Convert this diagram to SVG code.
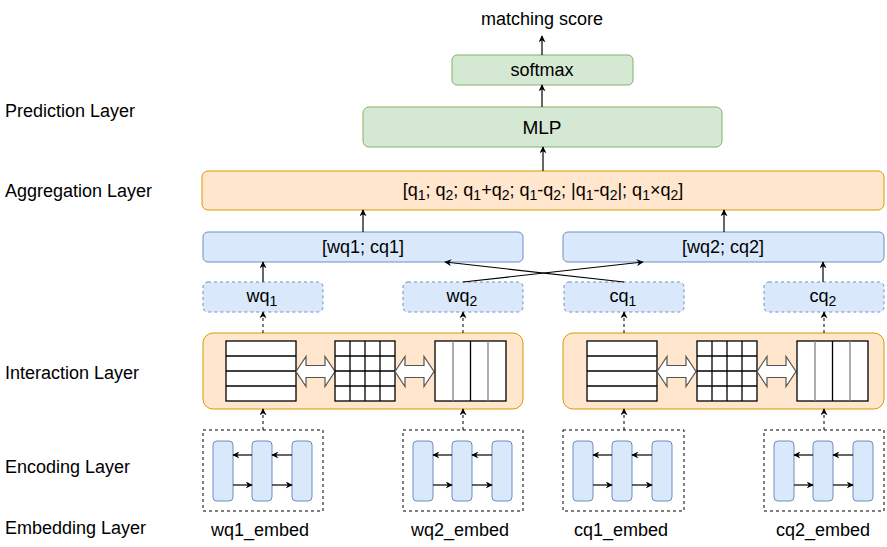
<svg xmlns="http://www.w3.org/2000/svg" width="887" height="547" viewBox="0 0 887 547">
<defs>
<marker id="ah" viewBox="0 0 10 10" refX="9" refY="5" markerWidth="7" markerHeight="7" markerUnits="userSpaceOnUse" orient="auto">
<path d="M0,0 L10,5 L0,10 L3,5 Z" fill="#000"/>
</marker>
<style>
text{font-family:"Liberation Sans",Arial,sans-serif;font-size:18px;fill:#000}
.c{text-anchor:middle}
.green{fill:#d5e8d4;stroke:#82b366;stroke-width:1}
.orange{fill:#ffe6cc;stroke:#d79b00;stroke-width:1}
.blue{fill:#dae8fc;stroke:#6c8ebf;stroke-width:1}
.bluedash{fill:#dae8fc;stroke:#6c8ebf;stroke-width:1;stroke-dasharray:3,3}
.enc{fill:none;stroke:#000;stroke-width:1;stroke-dasharray:3,3}
.ln{fill:none;stroke:#000;stroke-width:1.2}
.dash{fill:none;stroke:#000;stroke-width:1;stroke-dasharray:3,3}
.tbl{fill:#fff;stroke:#000;stroke-width:1.3}
.tl{stroke:#000;stroke-width:1.3}
.tg{stroke:#808080;stroke-width:1.3}
.darr{fill:#fff;stroke:#555;stroke-width:1.2}
.sub{font-size:14px}
</style>
<g id="horiz">
<rect x="0" y="0" width="70" height="60" class="tbl"/>
<line x1="0" y1="15" x2="70" y2="15" class="tl"/>
<line x1="0" y1="30" x2="70" y2="30" class="tl"/>
<line x1="0" y1="45" x2="70" y2="45" class="tl"/>
</g>
<g id="grid">
<rect x="0" y="0" width="60" height="60" class="tbl"/>
<line x1="0" y1="15" x2="60" y2="15" class="tl"/>
<line x1="0" y1="30" x2="60" y2="30" class="tl"/>
<line x1="0" y1="45" x2="60" y2="45" class="tl"/>
<line x1="15" y1="0" x2="15" y2="60" class="tl"/>
<line x1="30" y1="0" x2="30" y2="60" class="tl"/>
<line x1="45" y1="0" x2="45" y2="60" class="tl"/>
</g>
<g id="vert">
<rect x="0" y="0" width="71" height="60" class="tbl"/>
<line x1="18" y1="0" x2="18" y2="60" class="tg"/>
<line x1="35.5" y1="0" x2="35.5" y2="60" class="tl"/>
<line x1="53" y1="0" x2="53" y2="60" class="tg"/>
</g>
<polygon id="dbl" points="0,15 10,0 10,9 29,9 29,0 39,15 29,30 29,21 10,21 10,30" class="darr"/>
<g id="bilstm">
<rect x="10" y="11" width="20" height="60" rx="4" class="blue"/>
<rect x="49" y="11" width="20" height="60" rx="4" class="blue"/>
<rect x="89" y="11" width="20" height="60" rx="4" class="blue"/>
<line x1="49" y1="25" x2="30" y2="25" class="ln" marker-end="url(#ah)"/>
<line x1="89" y1="25" x2="69" y2="25" class="ln" marker-end="url(#ah)"/>
<line x1="30" y1="55" x2="49" y2="55" class="ln" marker-end="url(#ah)"/>
<line x1="69" y1="55" x2="89" y2="55" class="ln" marker-end="url(#ah)"/>
</g>
</defs>

<g id="layer-labels">
<text x="5" y="117">Prediction Layer</text>
<text x="5" y="197">Aggregation Layer</text>
<text x="5" y="379">Interaction Layer</text>
<text x="5" y="473">Encoding Layer</text>
<text x="5" y="534">Embedding Layer</text>
</g>

<g id="score"><text x="542" y="25" class="c">matching score</text></g>

<g id="softmax">
<rect x="452" y="55" width="181" height="30" rx="5" class="green"/>
<text x="542" y="76" class="c">softmax</text>
</g>

<g id="mlp">
<rect x="363" y="107" width="359" height="40" rx="6" class="green"/>
<text x="542" y="134" class="c" style="font-size:19px">MLP</text>
</g>

<g id="aggregation">
<rect x="202" y="171" width="682" height="39" rx="6" class="orange"/>
<text x="543" y="196" class="c">[q<tspan dy="4" class="sub">1</tspan><tspan dy="-4">; q</tspan><tspan dy="4" class="sub">2</tspan><tspan dy="-4">; q</tspan><tspan dy="4" class="sub">1</tspan><tspan dy="-4">+q</tspan><tspan dy="4" class="sub">2</tspan><tspan dy="-4">; q</tspan><tspan dy="4" class="sub">1</tspan><tspan dy="-4">-q</tspan><tspan dy="4" class="sub">2</tspan><tspan dy="-4">; |q</tspan><tspan dy="4" class="sub">1</tspan><tspan dy="-4">-q</tspan><tspan dy="4" class="sub">2</tspan><tspan dy="-4">|; q</tspan><tspan dy="4" class="sub">1</tspan><tspan dy="-4">×q</tspan><tspan dy="4" class="sub">2</tspan><tspan dy="-4">]</tspan></text>
</g>

<g id="concat1">
<rect x="203" y="232" width="320" height="30" rx="5" class="blue"/>
<text x="363" y="253" class="c">[wq1; cq1]</text>
</g>
<g id="concat2">
<rect x="563" y="232" width="321" height="30" rx="5" class="blue"/>
<text x="723" y="253" class="c">[wq2; cq2]</text>
</g>

<g id="wq1">
<rect x="203" y="282" width="120" height="30" rx="5" class="bluedash"/>
<text x="262" y="302" class="c">wq<tspan dy="4" class="sub">1</tspan></text>
</g>
<g id="wq2">
<rect x="403" y="282" width="120" height="30" rx="5" class="bluedash"/>
<text x="462" y="302" class="c">wq<tspan dy="4" class="sub">2</tspan></text>
</g>
<g id="cq1">
<rect x="564" y="282" width="120" height="30" rx="5" class="bluedash"/>
<text x="623" y="302" class="c">cq<tspan dy="4" class="sub">1</tspan></text>
</g>
<g id="cq2">
<rect x="764" y="282" width="120" height="30" rx="5" class="bluedash"/>
<text x="823" y="302" class="c">cq<tspan dy="4" class="sub">2</tspan></text>
</g>

<g id="interaction1">
<rect x="203" y="333" width="320" height="76" rx="10" class="orange"/>
<use href="#horiz" x="226" y="341"/>
<use href="#dbl" x="296" y="356.5"/>
<use href="#grid" x="335" y="341"/>
<use href="#dbl" x="395" y="356.5"/>
<use href="#vert" x="435" y="341"/>
</g>
<g id="interaction2">
<rect x="563" y="333" width="321" height="76" rx="10" class="orange"/>
<use href="#horiz" x="587" y="341"/>
<use href="#dbl" x="657" y="356.5"/>
<use href="#grid" x="697" y="341"/>
<use href="#dbl" x="757" y="356.5"/>
<use href="#vert" x="797" y="341"/>
</g>

<g id="enc-wq1">
<rect x="203" y="430" width="120" height="81" class="enc"/>
<use href="#bilstm" x="203" y="430"/>
</g>
<g id="enc-wq2">
<rect x="403" y="430" width="120" height="81" class="enc"/>
<use href="#bilstm" x="403" y="430"/>
</g>
<g id="enc-cq1">
<rect x="563" y="430" width="121" height="81" class="enc"/>
<use href="#bilstm" x="563" y="430"/>
</g>
<g id="enc-cq2">
<rect x="764" y="430" width="120" height="81" class="enc"/>
<use href="#bilstm" x="764" y="430"/>
</g>

<g id="embed-labels">
<text x="260" y="536" class="c">wq1_embed</text>
<text x="460" y="536" class="c">wq2_embed</text>
<text x="621" y="536" class="c">cq1_embed</text>
<text x="823" y="536" class="c">cq2_embed</text>
</g>

<g id="connectors">
<line x1="542" y1="55" x2="542" y2="36" class="ln" marker-end="url(#ah)"/>
<line x1="542" y1="107" x2="542" y2="85" class="ln" marker-end="url(#ah)"/>
<line x1="543" y1="171" x2="543" y2="147" class="ln" marker-end="url(#ah)"/>
<line x1="363" y1="232" x2="363" y2="210" class="ln" marker-end="url(#ah)"/>
<line x1="724" y1="232" x2="724" y2="210" class="ln" marker-end="url(#ah)"/>
<line x1="263" y1="282" x2="263" y2="262" class="ln" marker-end="url(#ah)"/>
<line x1="823" y1="282" x2="823" y2="262" class="ln" marker-end="url(#ah)"/>
<line x1="463" y1="282" x2="643" y2="262" class="ln" marker-end="url(#ah)"/>
<line x1="624" y1="282" x2="445" y2="262" class="ln" marker-end="url(#ah)"/>
<line x1="263" y1="333" x2="263" y2="312" class="dash" marker-end="url(#ah)"/>
<line x1="463" y1="333" x2="463" y2="312" class="dash" marker-end="url(#ah)"/>
<line x1="624" y1="333" x2="624" y2="312" class="dash" marker-end="url(#ah)"/>
<line x1="824" y1="333" x2="824" y2="312" class="dash" marker-end="url(#ah)"/>
<line x1="263" y1="430" x2="263" y2="409" class="dash" marker-end="url(#ah)"/>
<line x1="463" y1="430" x2="463" y2="409" class="dash" marker-end="url(#ah)"/>
<line x1="624" y1="430" x2="624" y2="409" class="dash" marker-end="url(#ah)"/>
<line x1="824" y1="430" x2="824" y2="409" class="dash" marker-end="url(#ah)"/>
</g>
</svg>
